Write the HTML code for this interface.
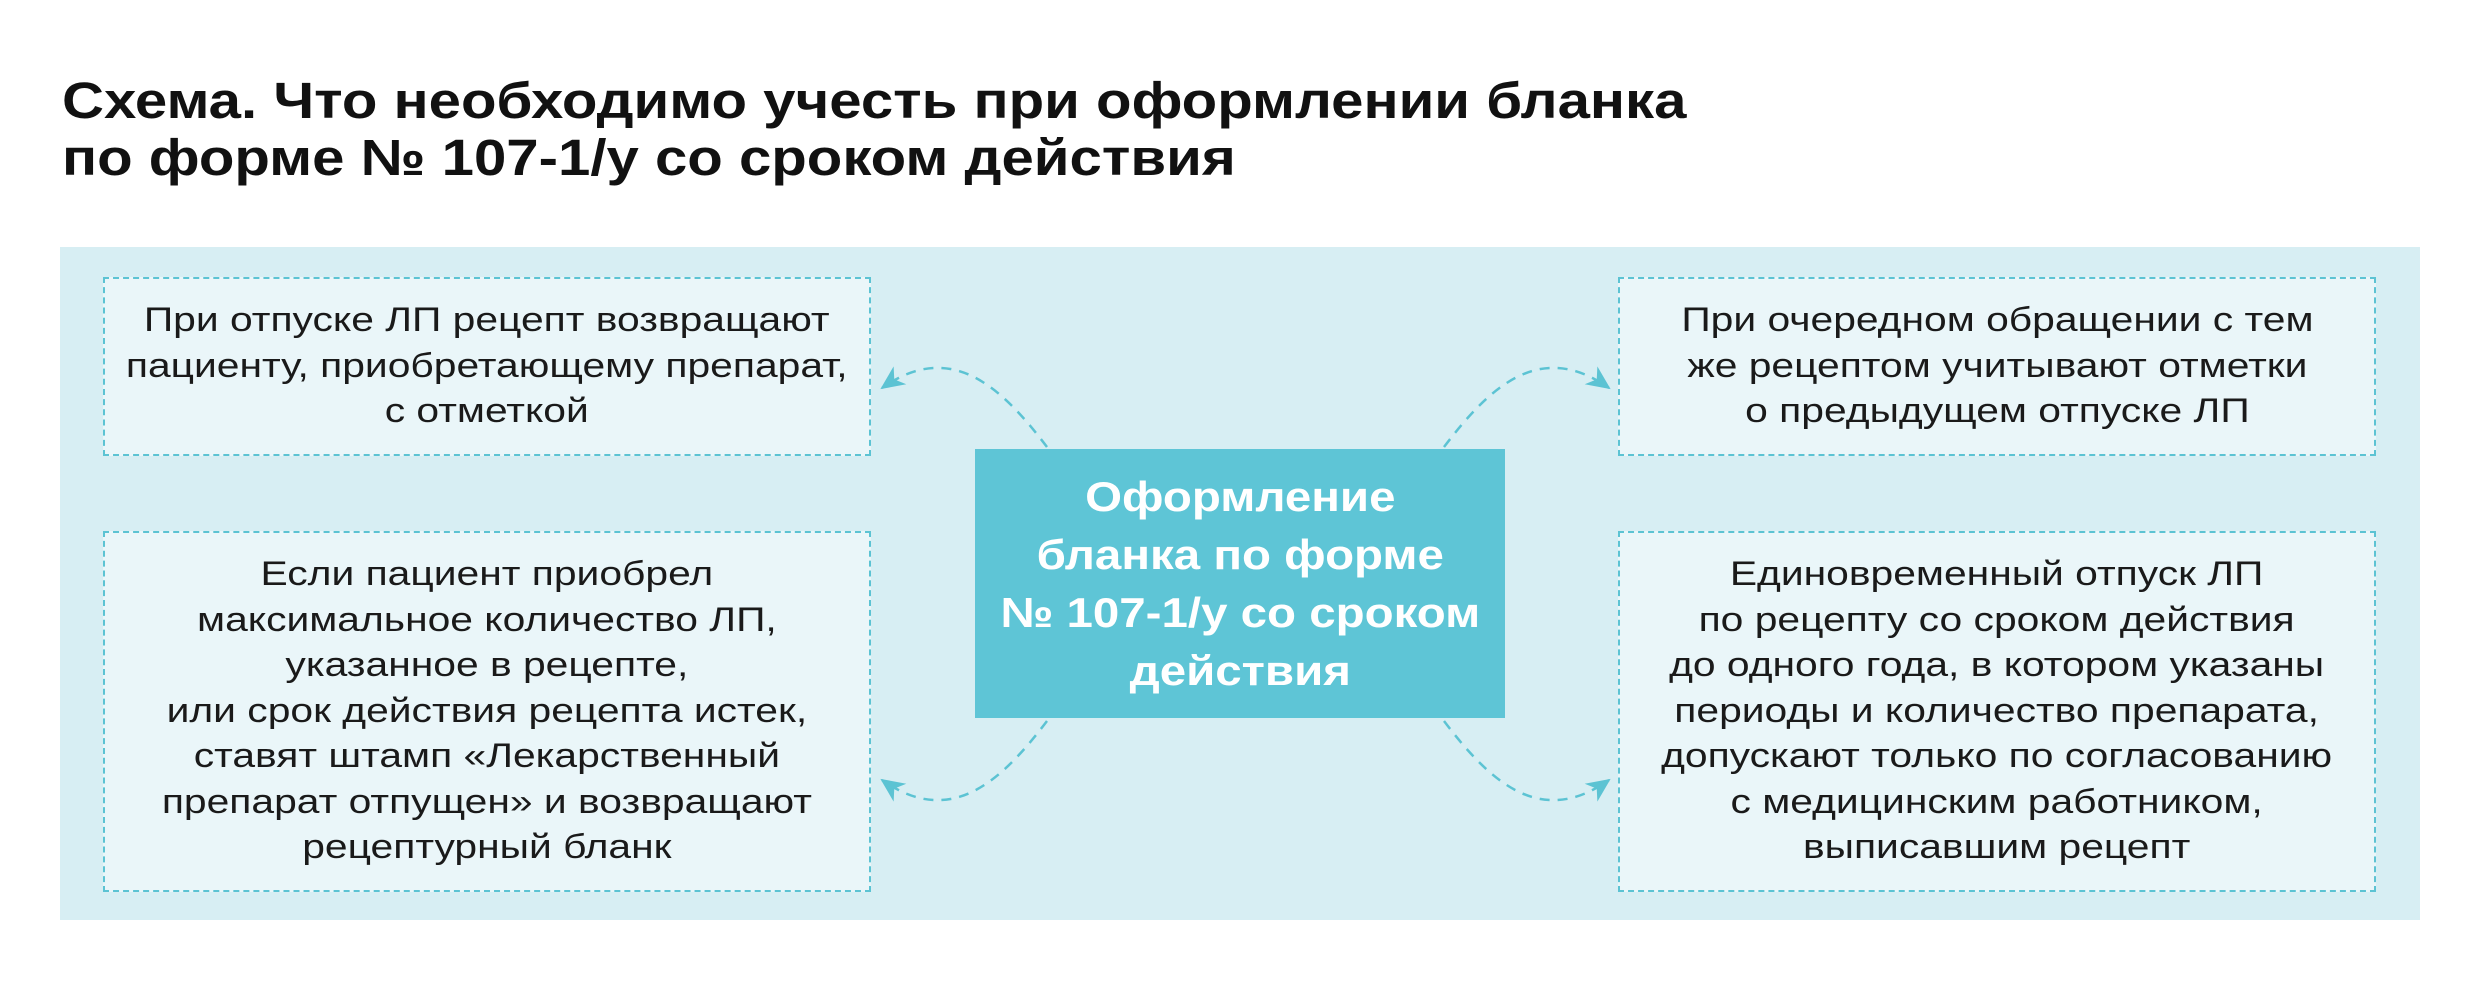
<!DOCTYPE html>
<html><head><meta charset="utf-8"><style>
body{margin:0;width:2480px;height:981px;background:#fff;position:relative;overflow:hidden;font-family:"Liberation Sans","DejaVu Sans",sans-serif;}
.title{position:absolute;left:62px;top:72px;font-weight:bold;font-size:51px;line-height:57px;color:#111;white-space:nowrap;transform-origin:0 0;transform:scaleX(1.14);}
.panel{position:absolute;left:60px;top:247px;width:2360px;height:673px;background:#d7eef3;}
.box{position:absolute;box-sizing:border-box;border:2px dashed #5cc3d3;background:#eaf6f9;display:flex;align-items:center;justify-content:center;text-align:center;font-size:34px;line-height:45.5px;color:#1a1a1a;}
.box span{display:inline-block;transform:scaleX(1.2);white-space:nowrap;}
.center{position:absolute;left:975px;top:449px;width:530px;height:269px;background:#5ec5d6;color:#fff;font-weight:bold;font-size:42px;line-height:58px;display:flex;align-items:center;justify-content:center;text-align:center;}
.center span{display:inline-block;transform:scaleX(1.13);white-space:nowrap;}
</style></head><body>
<div class="title">Схема. Что необходимо учесть при оформлении бланка<br>по форме № 107-1/у со сроком действия</div>
<div class="panel"></div>
<div class="box" style="left:103px;top:277px;width:768px;height:179px;"><span>При отпуске ЛП рецепт возвращают<br>пациенту, приобретающему препарат,<br>с отметкой</span></div>
<div class="box" style="left:103px;top:531px;width:768px;height:361px;"><span>Если пациент приобрел<br>максимальное количество ЛП,<br>указанное в рецепте,<br>или срок действия рецепта истек,<br>ставят штамп «Лекарственный<br>препарат отпущен» и возвращают<br>рецептурный бланк</span></div>
<div class="box" style="left:1618px;top:277px;width:758px;height:179px;"><span>При очередном обращении с тем<br>же рецептом учитывают отметки<br>о предыдущем отпуске ЛП</span></div>
<div class="box" style="left:1618px;top:531px;width:758px;height:361px;"><span>Единовременный отпуск ЛП<br>по рецепту со сроком действия<br>до одного года, в котором указаны<br>периоды и количество препарата,<br>допускают только по согласованию<br>с медицинским работником,<br>выписавшим рецепт</span></div>
<div class="center"><span>Оформление<br>бланка по форме<br>№ 107-1/у со сроком<br>действия</span></div>
<svg width="2480" height="981" style="position:absolute;left:0;top:0" viewBox="0 0 2480 981">
<defs>
<marker id="b" markerWidth="26" markerHeight="26" refX="22" refY="13" orient="auto" markerUnits="userSpaceOnUse"><path d="M0,2 L24,13 L0,24 L7,13 Z" fill="#5cc3d3"/></marker></defs>
<g fill="none" stroke="#5cc3d3" stroke-width="2.5" stroke-dasharray="10,8">
<path d="M1047,447 C1000,385 950,340 882,388" marker-end="url(#b)"/>
<path d="M1047,721 C1000,783 950,828 882,780" marker-end="url(#b)"/>
<path d="M1444,447 C1491,385 1541,340 1609,388" marker-end="url(#b)"/>
<path d="M1444,721 C1491,783 1541,828 1609,780" marker-end="url(#b)"/>
</g></svg>
</body></html>
